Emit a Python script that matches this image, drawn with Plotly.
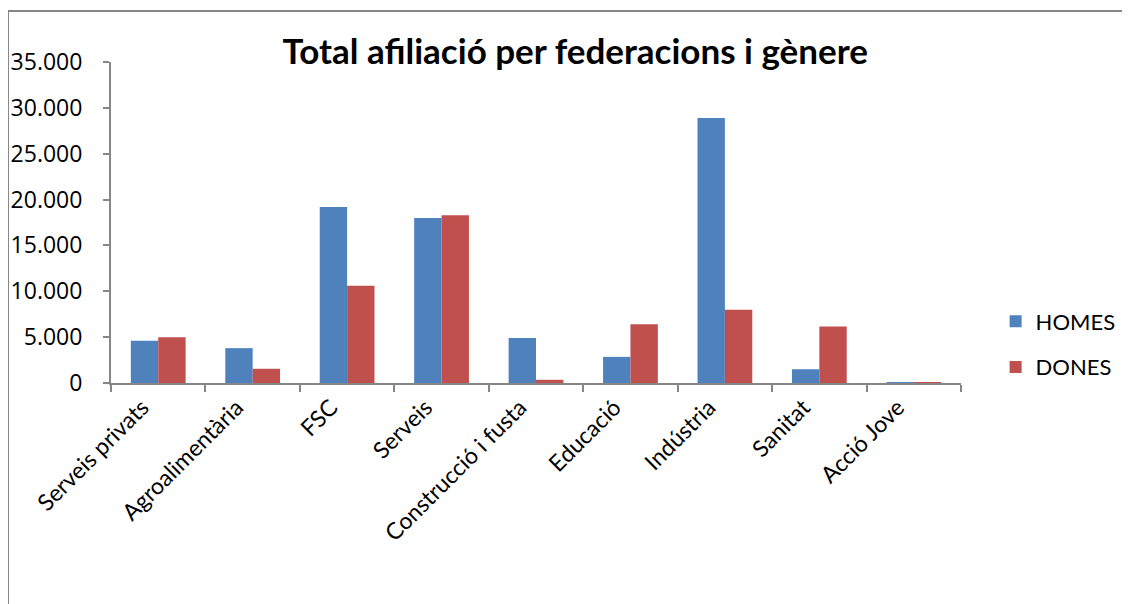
import plotly.graph_objects as go

federacions = ["Serveis privats", "Agroalimentària", "FSC", "Serveis",
               "Construcció i fusta", "Educació", "Indústria", "Sanitat", "Acció Jove"]
homes = [4600, 3800, 19200, 18000, 4900, 2850, 28900, 1500, 40]
dones = [5000, 1550, 10600, 18300, 350, 6400, 8000, 6150, 20]

fig = go.Figure()
fig.add_trace(go.Bar(x=federacions, y=homes, name="HOMES", legendgroup="h",
                     marker_color="#4F81BD", marker_line_width=0))
fig.add_trace(go.Bar(x=federacions, y=dones, name="DONES", legendgroup="d",
                     marker_color="#C0504D", marker_line_width=0))

# the page body has an 8px margin, so margins are shifted by 8px
fig.update_xaxes(
    showline=True, linecolor="#868686", linewidth=2,
    ticks="outside", tickson="boundaries", ticklen=7, tickcolor="#868686", tickwidth=2,
    tickangle=-45, ticklabelshift=-16, automargin=False,
    tickfont=dict(family="Lato", size=23, color="black"),
    showgrid=False,
)
fig.update_yaxes(
    range=[0, 35000], dtick=5000, tickformat=",d",
    showline=True, linecolor="#868686", linewidth=2,
    ticks="outside", ticklen=6, tickcolor="#868686", tickwidth=2,
    ticklabelstandoff=16, automargin=False,
    tickfont=dict(family="Open Sans", size=23, color="black"),
    showgrid=False, zeroline=False,
)
fig.update_layout(
    width=1130, height=604,
    separators=",.",
    barmode="group", bargap=0.42, bargroupgap=0,
    plot_bgcolor="white", paper_bgcolor="white",
    margin=dict(l=103, r=177, t=54, b=229),
    title=dict(text="<b>Total afiliació per federacions i gènere</b>",
               x=0.502, xanchor="center", y=0.927, yanchor="middle",
               font=dict(family="Lato", size=35, color="black")),
    legend=dict(xref="container", x=0.874, y=0.12, xanchor="left", yanchor="middle",
                font=dict(family="Lato", size=22, color="black"),
                tracegroupgap=14, itemsizing="constant"),
    shapes=[dict(type="rect", xref="paper", yref="paper",
                 x0=-0.1212, x1=1.3, y0=-1.0, y1=1.1589,
                 line=dict(color="#868686", width=2), layer="below")],
)

fig.write_html("out.html")
